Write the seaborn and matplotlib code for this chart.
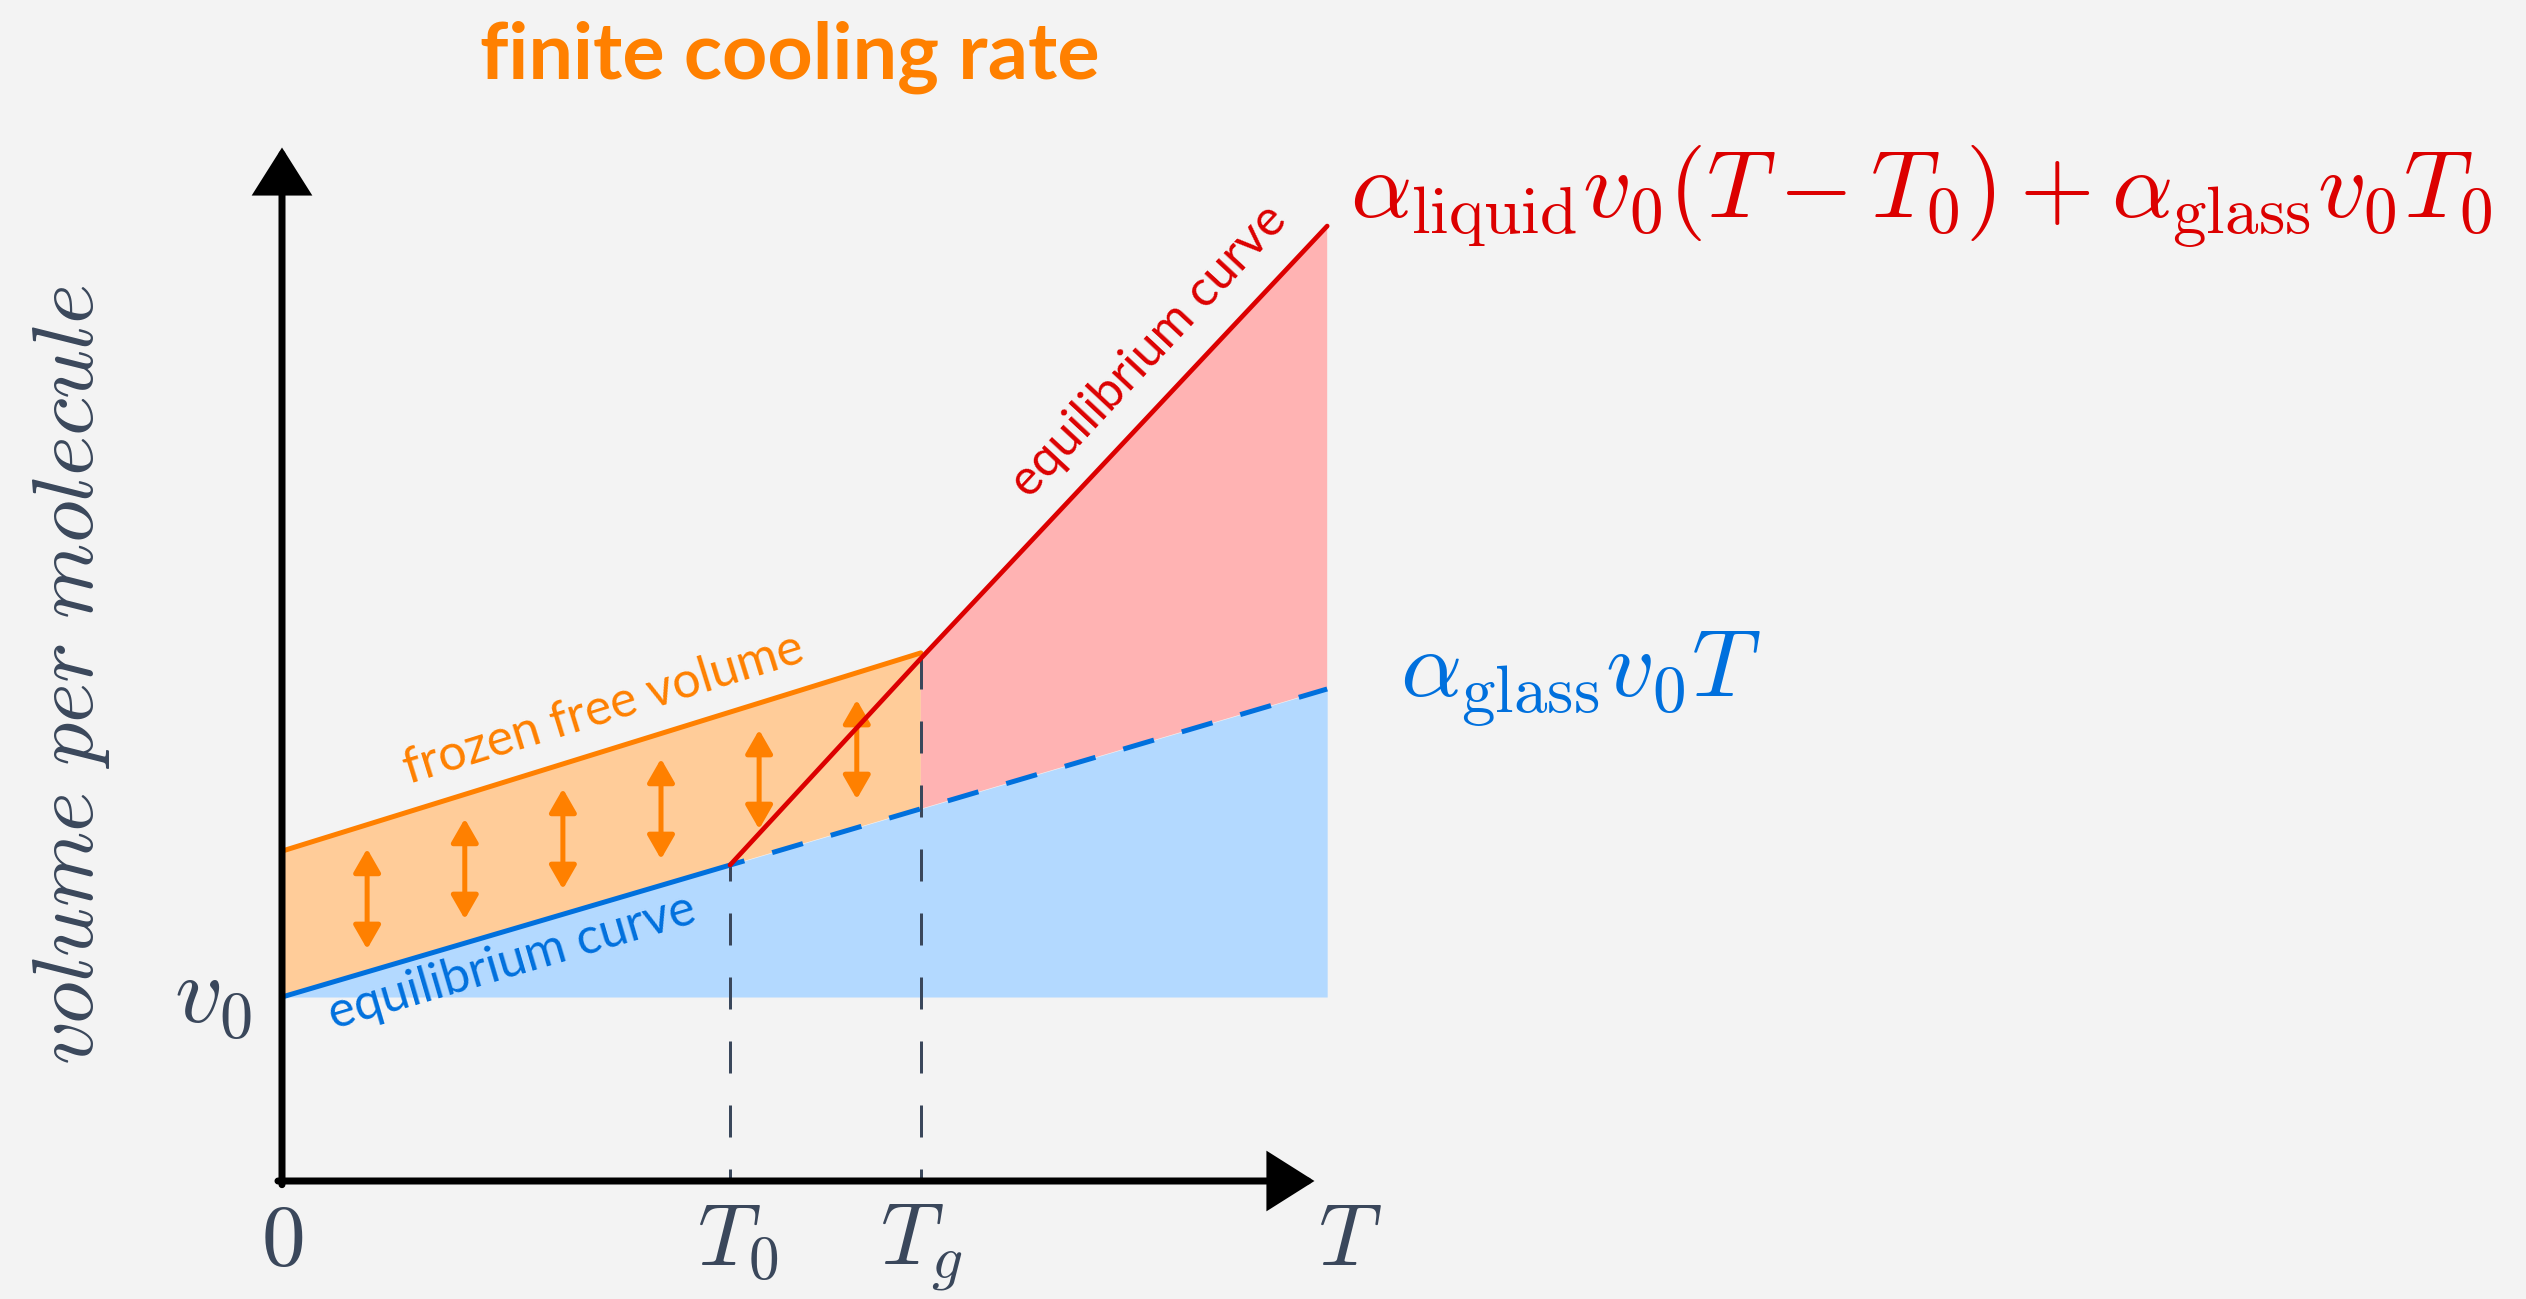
import numpy as np
import matplotlib
matplotlib.use("Agg")
import matplotlib.pyplot as plt
import seaborn as sns

# ---------------- data (T in units of T0, v in units of v0) ----------------
T0 = 1.0
TG = 1.426
T_END = 2.333
V0 = 1.0
T_AXIS_END = 2.317
V_AXIS_END = 5.647

glass_T = [0.0, T0, TG, T_END]          # equilibrium glass line  alpha_glass v0 T
glass_v = [1.0, 1.717, 2.023, 2.674]
frozen_T = [0.0, TG]                    # frozen free volume line
frozen_v = [1.793, 2.870]
liquid_T = [T0, TG, T_END]              # equilibrium liquid line
liquid_v = [1.717, 2.84, 5.190]

arrow_T = [0.190, 0.408, 0.627, 0.846, 1.065, 1.283]
arrow_top = [1.821, 1.984, 2.147, 2.310, 2.467, 2.630]
arrow_bottom = [1.245, 1.408, 1.571, 1.734, 1.897, 2.060]

tick_T = [0.0, T0, TG, T_AXIS_END]
tick_labels = ["$0$", "$T_0$", "$T_g$", "$T$"]

# ---------------- style ----------------
BG = "#F3F3F3"
DARK = "#3A475B"
RED = "#DC0000"
RED_FILL = "#FFB3B3"
BLUE = "#0070DD"
BLUE_FILL = "#B3D9FF"
ORANGE = "#FF8000"
ORANGE_FILL = "#FFCC99"

sns.set_theme(style="white")
plt.rcParams["font.family"] = ["Lato", "DejaVu Sans"]
plt.rcParams["mathtext.fontset"] = "cm"

W, H = 2526, 1299
fig = plt.figure(figsize=(W / 100, H / 100), dpi=100)
fig.patch.set_facecolor(BG)
ax = fig.add_axes([0, 0, 1, 1])
ax.set_facecolor(BG)
OX, OY, SX, SY = 282, 1181, 448, 184
ax.set_xlim(-OX / SX, (W - OX) / SX)
ax.set_ylim(-(H - OY) / SY, OY / SY)
ax.axis("off")


def P(xp, yp):
    return ((xp - OX) / SX, (OY - yp) / SY)


PX = 72 / 100  # points per pixel

# ---------------- fills ----------------
ax.fill_between(glass_T, V0, glass_v, color=BLUE_FILL, lw=0, zorder=1)
ax.fill(list(frozen_T) + glass_T[2::-1], list(frozen_v) + glass_v[2::-1],
        color=ORANGE_FILL, lw=0, zorder=1)
ax.fill(liquid_T[1:] + glass_T[:1:-1], liquid_v[1:] + glass_v[:1:-1],
        color=RED_FILL, lw=0, zorder=1)

# ---------------- vertical guide lines ----------------
glw = 3 * PX
for tx, top in [(T0, glass_v[1]), (TG, frozen_v[1])]:
    ax.plot([tx, tx], [0, top], color=DARK, lw=glw,
            linestyle=(20 / 3, (32 / 3, 32 / 3)), zorder=2)

# ---------------- lines ----------------
lw = 5 * PX
sns.lineplot(x=glass_T[:2], y=glass_v[:2], color=BLUE, lw=lw, ax=ax, zorder=3)
sns.lineplot(x=glass_T[1:], y=glass_v[1:], color=BLUE, lw=lw, ax=ax, zorder=3,
             linestyle=(17 / 5, (32 / 5, 29 / 5)))
sns.lineplot(x=frozen_T, y=frozen_v, color=ORANGE, lw=lw, ax=ax, zorder=3)

# double-headed arrows
for tx, vt, vb in zip(arrow_T, arrow_top, arrow_bottom):
    ax.annotate("", xy=(tx, vt), xytext=(tx, vb),
                arrowprops=dict(arrowstyle="<|-|>,head_length=0.2,head_width=0.115",
                                mutation_scale=72, color=ORANGE, lw=lw,
                                shrinkA=2, shrinkB=2),
                zorder=4)

sns.lineplot(x=liquid_T, y=liquid_v, color=RED, lw=4.7 * PX, ax=ax, zorder=5)

# ---------------- axes arrows ----------------
alw = 7 * PX
axis_style = "-|>,head_length=0.38,head_width=0.24"
ax.annotate("", xy=(T_AXIS_END, 0), xytext=(-0.009, 0),
            arrowprops=dict(arrowstyle=axis_style, mutation_scale=72, color="black",
                            lw=alw, shrinkA=0, shrinkB=4, joinstyle="miter"), zorder=6)
ax.annotate("", xy=(0, V_AXIS_END), xytext=(0, -0.02),
            arrowprops=dict(arrowstyle=axis_style, mutation_scale=72, color="black",
                            lw=alw, shrinkA=0, shrinkB=4, joinstyle="miter"), zorder=6)

# ---------------- tick labels ----------------
tick_px = [282, 738, 921, 1350]
for xp, lab in zip(tick_px, tick_labels):
    ax.text(*P(xp, 1265), lab, fontsize=63, color=DARK, ha="center", va="baseline")
ax.text(*P(252, 1022), "$v_0$", fontsize=68, color=DARK, ha="right", va="baseline")

# y axis label
ax.text(*P(72, 675), r"$\mathit{volume\ per\ molecule}$", fontsize=62, color=DARK,
        rotation=90, ha="center", va="center")

# title
ax.text(*P(790, 79), "finite cooling rate", fontsize=57, fontweight="bold",
        color=ORANGE, ha="center", va="baseline")

# formulas
ax.text(*P(1350, 218), r"$\alpha_{\mathrm{liquid}}v_0(T-T_0)+\alpha_{\mathrm{glass}}v_0T_0$",
        fontsize=69, color=RED, ha="left", va="baseline")
ax.text(*P(1400, 697), r"$\alpha_{\mathrm{glass}}v_0T$",
        fontsize=69, color=BLUE, ha="left", va="baseline")

# curve labels
ax.text(*P(1149, 351), "equilibrium curve", fontsize=36, color=RED,
        rotation=47, rotation_mode="anchor", ha="center", va="center")
ax.text(*P(604, 709), "frozen free volume", fontsize=36, color=ORANGE,
        rotation=17.2, rotation_mode="anchor", ha="center", va="center")
ax.text(*P(512, 962), "equilibrium curve", fontsize=36, color=BLUE,
        rotation=16.4, rotation_mode="anchor", ha="center", va="center")

fig.savefig("out.png", dpi=100, facecolor=BG)
